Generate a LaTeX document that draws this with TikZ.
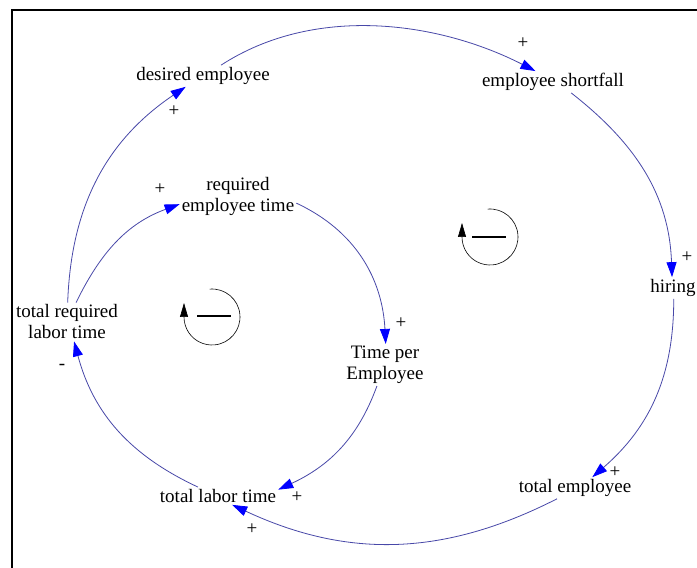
\documentclass[tikz,border=0pt]{standalone}
\usepackage{fontspec}
\setmainfont{Liberation Serif}
\usetikzlibrary{arrows.meta}
\definecolor{linkblue}{RGB}{72,72,168}
\definecolor{headblue}{RGB}{0,0,255}

\tikzset{
  var/.style={align=center, inner sep=2pt, font=\fontsize{19}{21}\selectfont},
  sign/.style={inner sep=0pt, font=\fontsize{19}{21}\selectfont},
  link/.style={linkblue, line width=0.8pt, -{Triangle[length=15pt,width=10pt,color=headblue]}},
  loopsym/.style={black, line width=0.6pt}
}

\begin{document}
\begin{tikzpicture}[x=1pt,y=1pt]
  \useasboundingbox (0,0) rectangle (697,568);
  \fill[white] (0,0) rectangle (697,568);
  \draw[line width=1.6pt] (12,-5) -- (12,558) -- (702,558);

  % variables
  \node[var] (de) at (203,492) {desired employee};
  \node[var] (es) at (553,486) {employee shortfall};
  \node[var] (ret) at (238,372) {required\\employee time};
  \node[var] (trl) at (67,246) {total required\\labor time};
  \node[var] (tpe) at (385,203) {Time per\\Employee};
  \node[var] (hiring) at (673,280) {hiring};
  \node[var] (te) at (575,80) {total employee};
  \node[var] (tlt) at (218,72) {total labor time};

  % links
  \draw[link] (de.31) to[out=33,in=153,looseness=0.9] (es.148);
  \draw[link] (es.-31) to[out=-38,in=92] (hiring.95);
  \draw[link] (hiring.-86) to[out=-90,in=41] (te.32);
  \draw[link] (te.211) to[out=207,in=-25] (tlt.-32);
  \draw[link] (tlt.156) to[out=155,in=-75] (trl.-70);
  \draw[link] (trl.88) to[out=88,in=-146] (de.212);
  \draw[link] (trl.65) to[out=64,in=200] (ret.188);
  \draw[link] (ret.-7) to[out=-25,in=93] (tpe.88);
  \draw[link] (tpe.249) to[out=-110,in=25] (tlt.6);

  % polarities
  \node[sign] (s1) at (523,525) {+};
  \node[sign] (s2) at (687,311) {+};
  \node[sign] (s3) at (615,96) {+};
  \node[sign] (s4) at (252,39) {+};
  \node[sign] (s5) at (62,201) {-};
  \node[sign] (s6) at (174,457) {+};
  \node[sign] (s7) at (160,379) {+};
  \node[sign] (s8) at (401,245) {+};
  \node[sign] (s9) at (297,71) {+};

  % loop markers
  \coordinate (loopA) at (490,331);
  \coordinate (loopB) at (212,251);
  \draw[loopsym,-{Triangle[length=14pt,width=8pt]}] (loopA) ++(95:28) arc[start angle=95,end angle=-180,radius=28] -- ++(0,14);
  \draw[line width=2pt] ([xshift=-18pt]loopA) -- ([xshift=16pt]loopA);
  \draw[loopsym,-{Triangle[length=14pt,width=8pt]}] (loopB) ++(95:28) arc[start angle=95,end angle=-180,radius=28] -- ++(0,14);
  \draw[line width=2pt] ([xshift=-15pt,yshift=1pt]loopB) -- ([xshift=19pt,yshift=1pt]loopB);
\end{tikzpicture}
\end{document}
